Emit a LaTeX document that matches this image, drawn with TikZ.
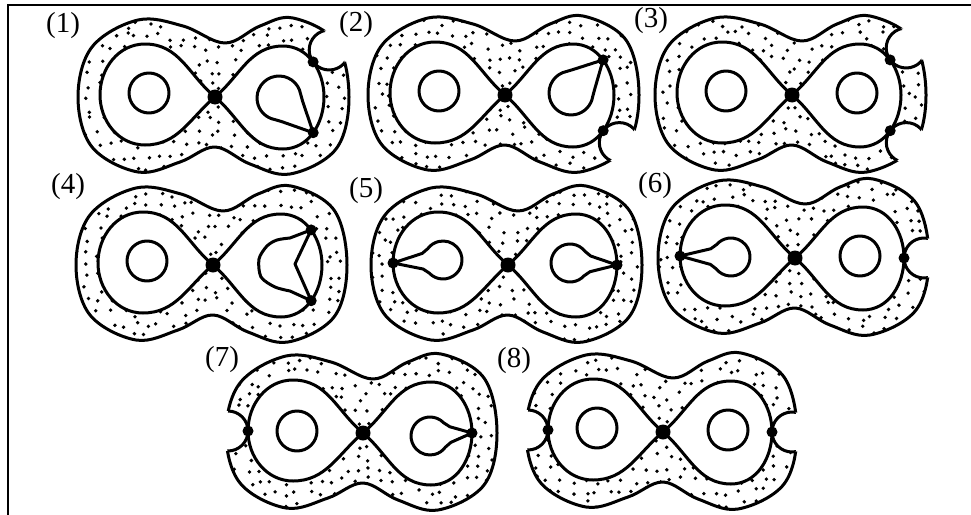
\documentclass[tikz,border=0pt]{standalone}
\usepackage{fontspec}
\setmainfont{Liberation Serif}
\usetikzlibrary{calc}
\tikzset{
 lw/.style={line width=3pt,line join=round},
 bigdot/.style={circle,fill=black,inner sep=0pt,minimum size=15pt},
 smalldot/.style={circle,fill=black,inner sep=0pt,minimum size=11pt},
 lbl/.style={inner sep=0pt,font=\fontsize{29}{29}\selectfont},
 frameline/.style={line width=2.2pt},
}
\newcommand\outerpath[1]{\path[#1] plot[smooth cycle,tension=0.6] coordinates {(-137,0) (-123,50) (-77,77) (-32,71) (10,54) (45,71) (78,79) (121,55) (134,0) (121,-52) (75,-77) (35,-67) (0,-50) (-35,-65) (-77,-75) (-123,-50)};}
\newcommand\lemni[1]{\path[#1] (0,0) to[out=40,in=180] (68,51) to[out=0,in=90] (109,0) to[out=-90,in=0] (68,-52) to[out=180,in=-40] (0,0) to[out=140,in=0] (-70,53) to[out=180,in=90] (-115,2) to[out=-90,in=180] (-70,-48) to[out=0,in=-140] (0,0);}
\newcommand\base{%
 \begin{scope}\outerpath{clip}
 \foreach \i in {-12,...,11}{\foreach \j in {-7,...,7}{\fill ({\i*12+6+4*rand},{\j*12+4*rand}) circle (1.9pt);}}
 \end{scope}
 \lemni{fill=white}
 \outerpath{draw,lw}}
\newcommand\notch[2]{\fill[white] (#1,#2) circle (20pt);
 \begin{scope}\outerpath{clip}\draw[lw] (#1,#2) circle (20pt);\end{scope}}
\newcommand\keyhole[8]{%
 \pgfmathsetmacro\kang{atan2((#5)-(#2),(#4)-(#1))}%
 \draw[lw] (#4,#5) -- ({#1+#8*#3*cos(\kang+#7)},{#2+#8*#3*sin(\kang+#7)}) -- ({#1+#3*cos(\kang+#6)},{#2+#3*sin(\kang+#6)}) arc[start angle=\kang+#6, end angle=\kang+360-#6, radius=#3pt] -- ({#1+#8*#3*cos(\kang-#7)},{#2+#8*#3*sin(\kang-#7)}) -- cycle;}
\begin{document}
\begin{tikzpicture}[x=1pt,y=1pt]
\useasboundingbox (0,0) rectangle (971,-514);
\pgfmathsetseed{7}
\draw[frameline] (8,-516) -- (8,-5) -- (973,-5);

% labels
\node[lbl] (t1) at (63,-26) {(1)};
\node[lbl] (t2) at (356,-25) {(2)};
\node[lbl] (t3) at (651,-21) {(3)};
\node[lbl] (t4) at (68,-187) {(4)};
\node[lbl] (t5) at (366,-191) {(5)};
\node[lbl] (t6) at (655,-186) {(6)};
\node[lbl] (t7) at (222,-360) {(7)};
\node[lbl] (t8) at (514,-361) {(8)};

% panel 1
\begin{scope}[shift={(215,-97)}]
\base
\notch{114.2}{47}
\lemni{draw,lw}
\draw[lw] (-66,4) circle (20pt);
\keyhole{64}{-1}{22}{98.2}{-35.7}{55}{38}{1.08}
\node[bigdot] (p1c) at (0,0) {};
\node[smalldot] (p1u) at (98.1,35.1) {};
\node[smalldot] (p1l) at (98.2,-35.7) {};
\end{scope}

% panel 2
\begin{scope}[shift={(505,-95)}]
\base
\notch{114.3}{-47.6}
\lemni{draw,lw}
\draw[lw] (-66,4) circle (20pt);
\keyhole{66}{2}{22}{98.1}{35.1}{55}{38}{1.08}
\node[bigdot] (p2c) at (0,0) {};
\node[smalldot] (p2u) at (98.1,35.1) {};
\node[smalldot] (p2l) at (98.2,-35.7) {};
\end{scope}

% panel 3
\begin{scope}[shift={(792,-95)}]
\base
\notch{114.2}{47}
\notch{114.3}{-47.6}
\lemni{draw,lw}
\draw[lw] (-66,4) circle (20pt);
\draw[lw] (65,2) circle (20pt);
\node[bigdot] (p3c) at (0,0) {};
\node[smalldot] (p3u) at (98.1,35.1) {};
\node[smalldot] (p3l) at (98.2,-35.7) {};
\end{scope}

% panel 4
\begin{scope}[shift={(213,-265)}]
\base
\lemni{draw,lw}
\draw[lw] (-66,4) circle (20pt);
\draw[lw] (98.1,35.1) -- plot[smooth] coordinates {(77,27) (64,25) (54,19) (46,6) (48,-12) (62,-22) (77,-26)} -- (98.2,-35.7) -- (82,1) -- cycle;
\node[bigdot] (p4c) at (0,0) {};
\node[smalldot] (p4u) at (98.1,35.1) {};
\node[smalldot] (p4l) at (98.2,-35.7) {};
\end{scope}

% panel 5
\begin{scope}[shift={(508,-265)}]
\base
\lemni{draw,lw}
\keyhole{-65}{5}{19}{-115}{2}{40}{21}{1.15}
\keyhole{62}{2}{19}{109}{0}{40}{21}{1.15}
\node[bigdot] (p5c) at (0,0) {};
\node[smalldot] (p5a) at (-115,2) {};
\node[smalldot] (p5b) at (109,0) {};
\end{scope}

% panel 6
\begin{scope}[shift={(795,-258)}]
\base
\notch{129}{0}
\lemni{draw,lw}
\keyhole{-64}{1}{19}{-115}{2}{40}{21}{1.15}
\draw[lw] (65,2) circle (20pt);
\node[bigdot] (p6c) at (0,0) {};
\node[smalldot] (p6a) at (-115,2) {};
\node[smalldot] (p6b) at (109,0) {};
\end{scope}

% panel 7
\begin{scope}[shift={(363,-433)}]
\base
\notch{-135}{2}
\lemni{draw,lw}
\draw[lw] (-66,2) circle (20pt);
\keyhole{67}{-3}{19}{109}{0}{40}{21}{1.15}
\node[bigdot] (p7c) at (0,0) {};
\node[smalldot] (p7a) at (-115,2) {};
\node[smalldot] (p7b) at (109,0) {};
\end{scope}

% panel 8
\begin{scope}[shift={(663,-432)}]
\base
\notch{-135}{2}
\notch{129}{0}
\lemni{draw,lw}
\draw[lw] (-66,4) circle (20pt);
\draw[lw] (65,2) circle (20pt);
\node[bigdot] (p8c) at (0,0) {};
\node[smalldot] (p8a) at (-115,2) {};
\node[smalldot] (p8b) at (109,0) {};
\end{scope}
\end{tikzpicture}
\end{document}
